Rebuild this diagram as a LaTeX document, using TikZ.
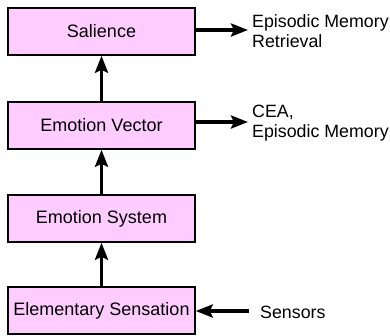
\documentclass[tikz,border=0pt]{standalone}
\usepackage{fontspec}
\setmainfont{Liberation Sans}
\usetikzlibrary{arrows.meta}
\definecolor{boxpink}{HTML}{FFCCFF}
\begin{document}
\begin{tikzpicture}[x=1pt,y=-1pt,
  blk/.style={draw=black, line width=1.5pt, fill=boxpink, minimum width=187pt, minimum height=47pt, inner sep=0pt,
    font=\fontsize{18}{20}\selectfont},
  lbl/.style={anchor=base west, align=left, inner sep=0pt, font=\fontsize{17.8}{20}\selectfont},
  conn/.style={line width=3.5pt, -{Stealth[length=17pt, width=13pt, inset=3pt]}}]
\useasboundingbox (0,0) rectangle (390,335);
\node[blk] (sal) at (101.5,31.5) {Salience};
\node[blk] (ev) at (101.5,125.5) {Emotion Vector};
\node[blk] (es) at (101.5,218.5) {Emotion System};
\node[blk] (els) at (101.5,310.5) {Elementary Sensation};
\coordinate (salout) at (248,30);
\coordinate (evout) at (248,122);
\coordinate (sensin) at (249,311);
\node[lbl] (t1) at (252,47) {Episodic Memory\\Retrieval};
\node[lbl] (t2) at (252,137) {CEA,\\Episodic Memory};
\node[lbl] (t3) at (260,318) {Sensors};
\draw[conn] (els.north) -- (es.south);
\draw[conn] (es.north) -- (ev.south);
\draw[conn] (ev.north) -- (sal.south);
\draw[conn] (sal.east |- salout) -- (salout);
\draw[conn] (ev.east |- evout) -- (evout);
\draw[conn] (sensin) -- (els.east |- sensin);
\end{tikzpicture}
\end{document}
